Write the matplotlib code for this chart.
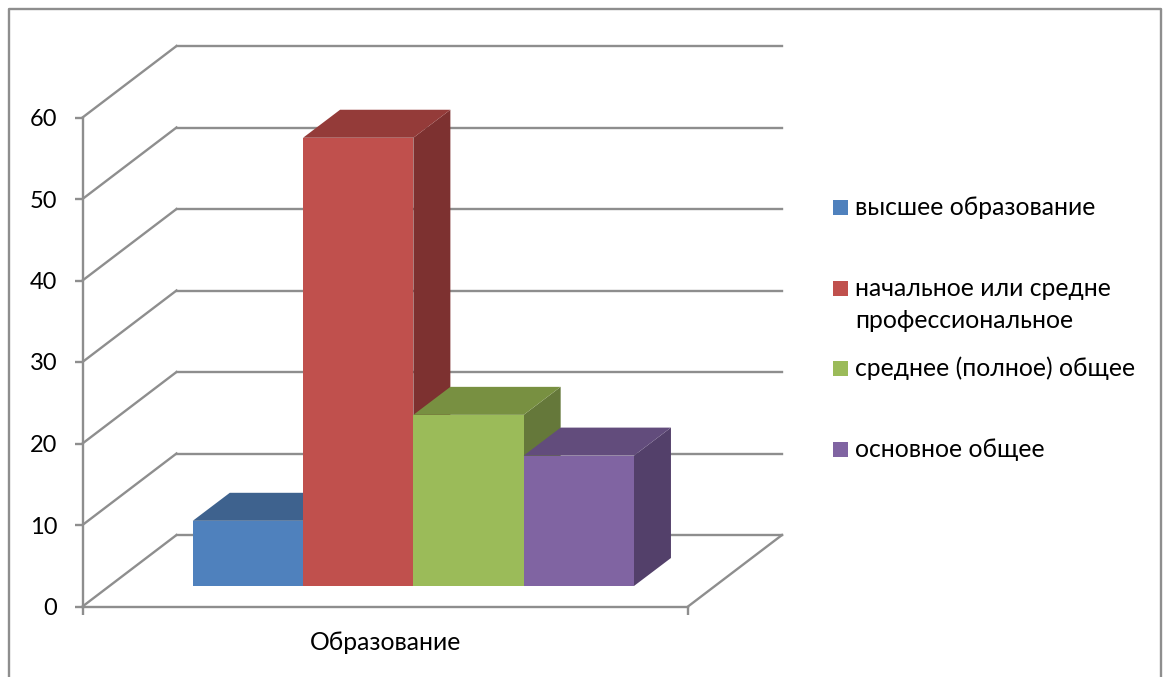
import matplotlib
matplotlib.use('Agg')
import matplotlib.pyplot as plt
from matplotlib.patches import Polygon, Rectangle

plt.rcParams['font.family'] = ['Lato', 'Open Sans', 'DejaVu Sans']

categories = ['высшее образование', 'начальное или средне\nпрофессиональное',
              'среднее (полное) общее', 'основное общее']
values = [8, 55, 21, 16]
front_colors = ['#4F81BD', '#C0504D', '#9BBB59', '#8064A2']
top_colors = ['#3E628E', '#943B39', '#789041', '#624C7C']
side_colors = ['#355478', '#7D3130', '#65783A', '#53406A']
y_ticks = [0, 10, 20, 30, 40, 50, 60]
x_title = 'Образование'

W, H = 1168, 677
GRAY = '#8e8e8e'
FS = 17.8

fig = plt.figure(figsize=(W / 100, H / 100), dpi=100)
# axes box = front face of the fake 3d chart
ax = fig.add_axes([82.5 / W, 1 - 606.5 / H, 605.5 / W, 489 / H])
ax.set_xlim(-1, 4.49)
ax.set_ylim(0, 60)
ax.patch.set_alpha(0)

unit_x = 605.5 / 5.49
unit_y = 489 / 60
wall_dx, wall_dy = 94 / unit_x, 71.5 / unit_y
bar_dx, bar_dy = 37 / unit_x, 28 / unit_y
base = 20.5 / unit_y
x0, x1 = ax.get_xlim()

for v in y_ticks:
    ax.plot([x0, x0 + wall_dx], [v, v + wall_dy], color=GRAY, lw=1.7,
            clip_on=False, zorder=1)
    ax.plot([x0 + wall_dx, x1 + wall_dx], [v + wall_dy, v + wall_dy], color=GRAY,
            lw=1.7, clip_on=False, zorder=1)
ax.plot([x1, x1 + wall_dx], [0, wall_dy], color=GRAY, lw=1.7, clip_on=False, zorder=1)

for i, v in enumerate(values):
    left, right = i, i + 1
    bot, top = base, base + v
    z = 3 + i
    ax.add_patch(Polygon([(right, bot), (right + bar_dx, bot + bar_dy),
                          (right + bar_dx, top + bar_dy), (right, top)],
                         fc=side_colors[i], ec='none', clip_on=False, zorder=z))
    ax.add_patch(Polygon([(left, top), (right, top), (right + bar_dx, top + bar_dy),
                          (left + bar_dx, top + bar_dy)],
                         fc=top_colors[i], ec='none', clip_on=False, zorder=z))
    ax.add_patch(Rectangle((left, bot), 1, v, fc=front_colors[i], ec='none',
                           clip_on=False, zorder=z))

for s in ['top', 'right']:
    ax.spines[s].set_visible(False)
for s in ['left', 'bottom']:
    ax.spines[s].set_color(GRAY)
    ax.spines[s].set_linewidth(1.7)
ax.set_yticks(y_ticks)
ax.set_xticks([x0, x1])
ax.set_xticklabels([])
ax.tick_params(axis='both', color=GRAY, width=1.7, length=6, labelcolor='black')
ax.tick_params(axis='y', labelsize=17, pad=12)
ax.set_xlabel(x_title, fontsize=FS, labelpad=8)

# legend, entries are not evenly spaced in the original so placed by hand
legend_bottom = [215, 296, 376, 457]
for name, col, ly in zip(categories, front_colors, legend_bottom):
    fig.add_artist(Rectangle((833 / W, 1 - ly / H), 15 / W, 15 / H, fc=col,
                             ec='none', transform=fig.transFigure))
    lines = name.split('\n')
    fig.text(855 / W, 1 - ly / H, lines[0], fontsize=FS, va='baseline')
    if len(lines) > 1:
        fig.text(855 / W, 1 - (ly + 32) / H, lines[1], fontsize=FS, va='baseline')

# outer chart frame, runs off the bottom of the picture
fig.add_artist(plt.Line2D([8.5 / W, 8.5 / W, 1161 / W, 1161 / W],
                          [0, 1 - 8.5 / H, 1 - 8.5 / H, 0], color=GRAY, lw=1.7))

fig.savefig('out.png', dpi=100)
